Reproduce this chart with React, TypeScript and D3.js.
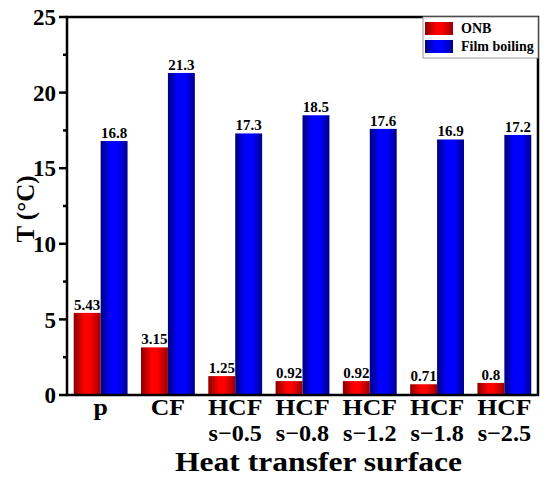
import React from "react";
import * as d3 from "d3";

const surfaces = ["p", "CF", "HCF s−0.5", "HCF s−0.8", "HCF s−1.2", "HCF s−1.8", "HCF s−2.5"];
const onb = [5.43, 3.15, 1.25, 0.92, 0.92, 0.71, 0.8];
const film = [16.8, 21.3, 17.3, 18.5, 17.6, 16.9, 17.2];
const yTicks = [0, 5, 10, 15, 20, 25];
const seriesNames = ["ONB", "Film boiling"];

const W = 550,
  H = 478;
const margin = { top: 17, right: 12, bottom: 83, left: 67 };
const font = "Times New Roman, Liberation Serif, Times, serif";

export default function App() {
  const x = d3
    .scaleBand()
    .domain(surfaces)
    .range([margin.left, W - margin.right])
    .paddingInner(0.2)
    .paddingOuter(0.1);
  const sub = d3.scaleBand().domain(seriesNames).range([0, x.bandwidth()]);
  const y = d3.scaleLinear().domain([0, 25]).range([H - margin.bottom, margin.top]);
  const minor = d3.range(2.5, 25, 5);
  const fills = ["url(#gRed)", "url(#gBlue)"];
  const series = [onb, film];

  return (
    <svg width={W} height={H} style={{ position: "absolute", left: 0, top: 0, fontFamily: font }} fontWeight="bold">
      <defs>
        <linearGradient id="gRed" x1="0" x2="1" y1="0" y2="0">
          <stop offset="0" stopColor="#8a0000" />
          <stop offset="0.4" stopColor="#ff0000" />
          <stop offset="0.6" stopColor="#ff0000" />
          <stop offset="1" stopColor="#9a0000" />
        </linearGradient>
        <linearGradient id="gBlue" x1="0" x2="1" y1="0" y2="0">
          <stop offset="0" stopColor="#00007a" />
          <stop offset="0.35" stopColor="#0000ff" />
          <stop offset="0.65" stopColor="#0000ff" />
          <stop offset="1" stopColor="#00008a" />
        </linearGradient>
      </defs>

      {surfaces.map((s, i) =>
        series.map((vals, k) => {
          const bx = x(s)! + sub(seriesNames[k])!;
          return (
            <g key={s + k}>
              <rect x={bx} y={y(vals[i])} width={sub.bandwidth()} height={y(0) - y(vals[i])} fill={fills[k]} />
              <text x={bx + sub.bandwidth() / 2} y={y(vals[i]) - 3} textAnchor="middle" fontSize={15}>
                {vals[i]}
              </text>
            </g>
          );
        })
      )}

      {/* frame */}
      <rect
        x={margin.left}
        y={margin.top}
        width={W - margin.right - margin.left}
        height={y(0) - margin.top}
        fill="none"
        stroke="#000"
        strokeWidth={2.5}
      />

      {/* y axis ticks */}
      {yTicks.map((t) => (
        <g key={t}>
          <line x1={margin.left - 8} x2={margin.left} y1={y(t)} y2={y(t)} stroke="#000" strokeWidth={2.5} />
          <text x={margin.left - 11} y={y(t)} dy="0.36em" textAnchor="end" fontSize={23}>
            {t}
          </text>
        </g>
      ))}
      {minor.map((t) => (
        <line key={t} x1={margin.left - 4} x2={margin.left} y1={y(t)} y2={y(t)} stroke="#000" strokeWidth={2.5} />
      ))}

      {/* x labels */}
      {surfaces.map((s) => {
        const cx = x(s)! + x.bandwidth() / 2;
        const parts = s.split(" ");
        return (
          <g key={s}>
            <text transform={`translate(${cx},415) scale(1.12,1)`} textAnchor="middle" fontSize={23}>
              {parts[0]}
            </text>
            {parts[1] && (
              <text transform={`translate(${cx},441) scale(1.05,1)`} textAnchor="middle" fontSize={23}>
                {parts[1]}
              </text>
            )}
          </g>
        );
      })}

      <text x={175} y={471} fontSize={27} textLength={287} lengthAdjust="spacingAndGlyphs">
        Heat transfer surface
      </text>
      <text transform={`translate(34,${y(12.3)}) rotate(-90)`} textAnchor="middle" fontSize={25}>
        T (°C)
      </text>

      {/* legend */}
      <g>
        <rect x={423} y={margin.top} width={W - margin.right - 423} height={41} fill="#fff" stroke="#999" strokeWidth={1} />
        {seriesNames.map((n, k) => (
          <g key={n}>
            <rect x={425} y={22 + k * 18} width={28} height={13} fill={fills[k]} />
            <text x={461} y={33 + k * 18} fontSize={14}>
              {n}
            </text>
          </g>
        ))}
      </g>
    </svg>
  );
}
